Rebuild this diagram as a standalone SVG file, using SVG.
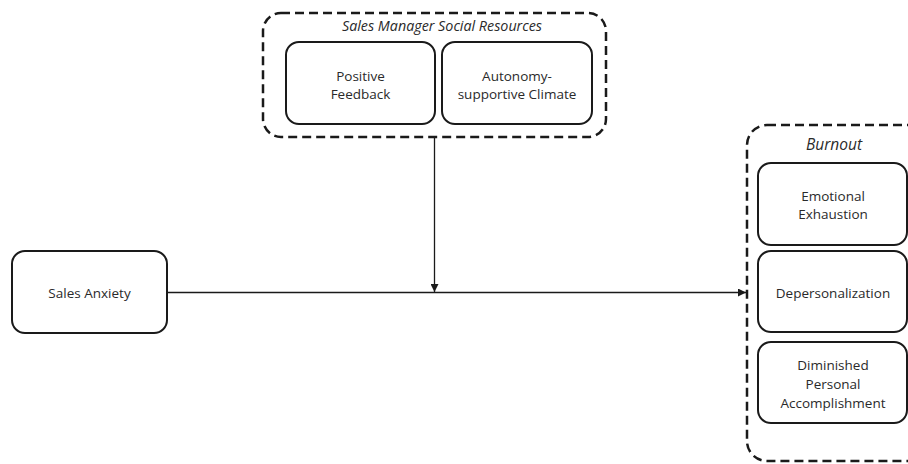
<svg xmlns="http://www.w3.org/2000/svg" width="908" height="464" viewBox="0 0 908 464">
<defs>
<style>
.box{fill:#fff;stroke:#1a1a1a;stroke-width:2}
.grp{fill:none;stroke:#1a1a1a;stroke-width:2.5;stroke-dasharray:9,5}
.t{font-family:"Open Sans","Liberation Sans",sans-serif;font-size:13.5px;fill:#2a2a2a;text-anchor:middle}
.it{font-style:italic}
.ln{stroke:#1a1a1a;stroke-width:1.3;fill:none}
</style>
<marker id="ah" viewBox="0 0 10 10" refX="10" refY="5" markerWidth="8" markerHeight="8" markerUnits="userSpaceOnUse" orient="auto"><path d="M0,0 L10,5 L0,10 z" fill="#1a1a1a"/></marker>
</defs>
<g id="group-resources">
<rect class="grp" x="263" y="13" width="343" height="124" rx="18"/>
<text class="t it" x="442" y="31" style="font-size:14.3px">Sales Manager Social Resources</text>
</g>
<g id="positive-feedback">
<rect class="box" x="286" y="42" width="149" height="82" rx="13"/>
<text class="t" x="360.5" y="81">Positive</text>
<text class="t" x="360.5" y="98.5">Feedback</text>
</g>
<g id="autonomy">
<rect class="box" x="442" y="42" width="150" height="82" rx="13"/>
<text class="t" x="517" y="81">Autonomy-</text>
<text class="t" x="517" y="98.5">supportive Climate</text>
</g>
<g id="group-burnout">
<rect class="grp" x="747" y="125" width="180" height="336" rx="20"/>
<text class="t it" x="834" y="150" style="font-size:15.5px">Burnout</text>
</g>
<g id="emotional-exhaustion">
<rect class="box" x="758" y="163" width="149" height="82" rx="13"/>
<text class="t" x="833" y="200.5">Emotional</text>
<text class="t" x="833" y="218.5">Exhaustion</text>
</g>
<g id="depersonalization">
<rect class="box" x="758" y="251" width="149" height="81" rx="13"/>
<text class="t" x="833" y="297.5">Depersonalization</text>
</g>
<g id="diminished">
<rect class="box" x="758" y="342" width="149" height="81" rx="13"/>
<text class="t" x="833" y="369.5">Diminished</text>
<text class="t" x="833" y="388.5">Personal</text>
<text class="t" x="833" y="407.5">Accomplishment</text>
</g>
<g id="sales-anxiety">
<rect class="box" x="12" y="251" width="155" height="82" rx="13"/>
<text class="t" x="89.5" y="297.5">Sales Anxiety</text>
</g>
<g id="connectors">
<line class="ln" x1="167" y1="292.5" x2="746" y2="292.5" marker-end="url(#ah)"/>
<line class="ln" x1="434.5" y1="137" x2="434.5" y2="292" marker-end="url(#ah)"/>
</g>
</svg>
